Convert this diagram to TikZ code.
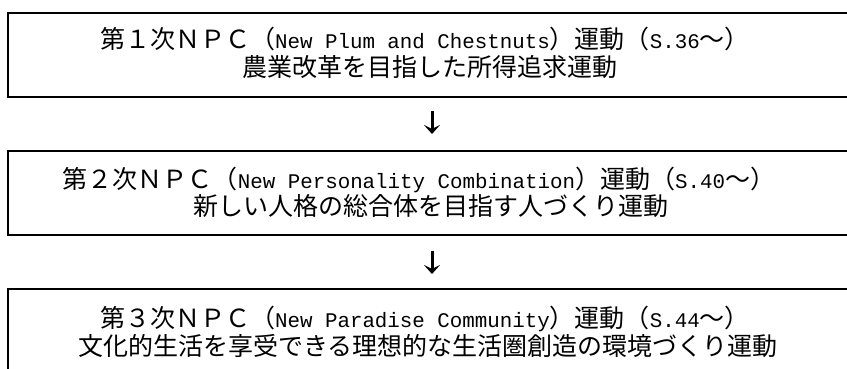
\documentclass[tikz,border=0pt]{standalone}
\usepackage{fontspec}
\setmainfont{Noto Sans CJK JP}
\newfontfamily\lat{Liberation Mono}[Scale=0.833]
\usetikzlibrary{arrows.meta}
\tikzset{
  box/.style={draw=black, line width=1.6pt, rectangle, anchor=north west,
    minimum width=880pt, minimum height=84pt, inner sep=0pt},
  txt/.style={anchor=base, inner sep=0pt, font=\fontsize{25}{28}\selectfont},
  arr/.style={line width=3pt, -{Stealth[length=9pt,width=16pt,inset=4pt]}}
}
\begin{document}
\begin{tikzpicture}[x=1pt,y=-1pt]
\useasboundingbox (0,0) rectangle (847,369);
\clip (0,0) rectangle (847,369);
\fill[white] (0,0) rectangle (847,369);
% boxes
\node[box] (b1) at (7,12) {};
\node[box] (b2) at (7,150) {};
\node[box] (b3) at (7,288) {};
% texts
\node[txt] (t1a) at (425,49) {第１次ＮＰＣ（{\lat New Plum and Chestnuts}）運動（{\lat S.36}～）};
\node[txt] (t1b) at (430,77) {農業改革を目指した所得追求運動};
\node[txt] (t2a) at (419,188) {第２次ＮＰＣ（{\lat New Personality Combination}）運動（{\lat S.40}～）};
\node[txt] (t2b) at (431,215) {新しい人格の総合体を目指す人づくり運動};
\node[txt] (t3a) at (425,327) {第３次ＮＰＣ（{\lat New Paradise Community}）運動（{\lat S.44}～）};
\node[txt] (t3b) at (428,355) {文化的生活を享受できる理想的な生活圏創造の環境づくり運動};
% arrows
\coordinate (a1s) at (432,111);
\coordinate (a1e) at (432,134);
\coordinate (a2s) at (432,251);
\coordinate (a2e) at (432,274);
\draw[arr] (a1s) -- (a1e);
\draw[arr] (a2s) -- (a2e);
\end{tikzpicture}
\end{document}
